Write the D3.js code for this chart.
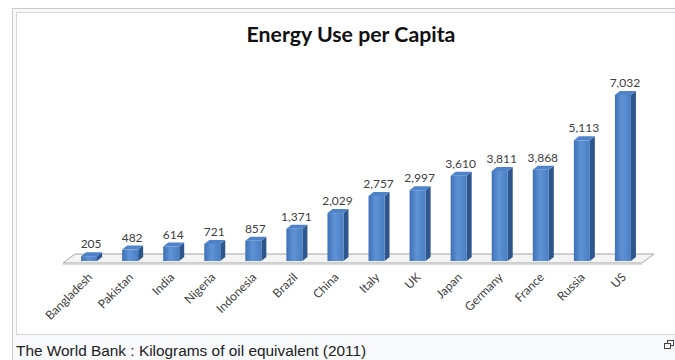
<!DOCTYPE html>
<html>
<head>
<meta charset="utf-8">
<script src="https://cdnjs.cloudflare.com/ajax/libs/d3/7.8.5/d3.min.js"></script>
<style>
  html, body { margin: 0; padding: 0; background: #ffffff; }
  svg { display: block; }
</style>
</head>
<body>
<script>
// ---- data ----
const categories = ["Bangladesh","Pakistan","India","Nigeria","Indonesia","Brazil","China","Italy","UK","Japan","Germany","France","Russia","US"];
const values = [205, 482, 614, 721, 857, 1371, 2029, 2757, 2997, 3610, 3811, 3868, 5113, 7032];
const valueLabels = ["205","482","614","721","857","1,371","2,029","2,757","2,997","3,610","3,811","3,868","5,113","7,032"];
const title = "Energy Use per Capita";
const caption = "The World Bank : Kilograms of oil equivalent (2011)";

const W = 675, H = 360;
const svg = d3.select("body").append("svg").attr("width", W).attr("height", H);

// ---- thumbnail frame ----
svg.append("rect").attr("x", 12.5).attr("y", 8.5).attr("width", W).attr("height", H)
  .attr("fill", "#f8f9fa").attr("stroke", "#c8ccd1");
svg.append("rect").attr("x", 16.5).attr("y", 12.5).attr("width", W).attr("height", 322)
  .attr("fill", "#ffffff").attr("stroke", "#d4d6da");

// ---- gradients ----
const defs = svg.append("defs");
const gFront = defs.append("linearGradient").attr("id", "gFront").attr("x1", "0").attr("x2", "1").attr("y1", "0").attr("y2", "0");
gFront.append("stop").attr("offset", "0%").attr("stop-color", "#3e70b6");
gFront.append("stop").attr("offset", "45%").attr("stop-color", "#5f93d6");
gFront.append("stop").attr("offset", "100%").attr("stop-color", "#4a7ec2");

// ---- scales ----
const x = d3.scaleBand().domain(categories).range([63, 649]).paddingInner(0.61).paddingOuter(0.44);
const y = d3.scaleLinear().domain([0, 7032]).range([261, 95]);
const dx = 5, dy = -4;          // bar depth
const fdx = 12, fdy = -9;        // floor depth

// ---- floor ----
const fx0 = 63, fx1 = 642, fy = 263;
svg.append("path")
  .attr("d", `M${fx0},${fy} L${fx1},${fy} L${fx1 + fdx},${fy + fdy} L${fx0 + fdx},${fy + fdy} Z`)
  .attr("fill", "#f4f4f4").attr("stroke", "#a6a6a6").attr("stroke-width", 1);
svg.append("line").attr("x1", fx0).attr("x2", fx1).attr("y1", fy + 1.5).attr("y2", fy + 1.5)
  .attr("stroke", "#d9d9d9").attr("stroke-width", 1);

// ---- bars ----
const bars = svg.append("g").selectAll("g").data(categories).join("g");
const bw = x.bandwidth();
bars.each(function(c, i) {
  const g = d3.select(this);
  const x0 = x(c), x1 = x0 + bw, yt = y(values[i]), yb = y(0);
  g.append("path")
    .attr("d", `M${x1},${yt} L${x1 + dx},${yt + dy} L${x1 + dx},${yb + dy} L${x1},${yb} Z`)
    .attr("fill", "#2d568c");
  g.append("path")
    .attr("d", `M${x0},${yt} L${x0 + dx},${yt + dy} L${x1 + dx},${yt + dy} L${x1},${yt} Z`)
    .attr("fill", "#4f83c9");
  g.append("rect").attr("x", x0).attr("y", yt).attr("width", bw).attr("height", yb - yt)
    .attr("fill", "url(#gFront)");
});

// ---- value labels ----
svg.append("g").selectAll("text").data(categories).join("text")
  .attr("x", c => x(c) + bw / 2 + 2)
  .attr("y", (c, i) => y(values[i]) - 8)
  .attr("text-anchor", "middle")
  .attr("font-family", "Lato, 'Open Sans', sans-serif")
  .attr("font-size", 12)
  .attr("fill", "#404040")
  .text((c, i) => valueLabels[i]);

// ---- category labels ----
svg.append("g").selectAll("text").data(categories).join("text")
  .attr("transform", c => `translate(${x(c) + bw / 2 + 1},${275}) rotate(-45)`)
  .attr("text-anchor", "end")
  .attr("dy", "0.35em")
  .attr("font-family", "Lato, 'Open Sans', sans-serif")
  .attr("font-size", 12)
  .attr("fill", "#404040")
  .text(c => c);

// ---- title ----
svg.append("text").attr("x", 351).attr("y", 42).attr("text-anchor", "middle")
  .attr("font-family", "Lato, 'Open Sans', sans-serif").attr("font-weight", "bold")
  .attr("font-size", 21.3).attr("fill", "#111111").text(title);

// ---- caption ----
svg.append("text").attr("x", 16).attr("y", 356)
  .attr("font-family", "'Liberation Sans', Arial, sans-serif")
  .attr("font-size", 15.4).attr("fill", "#202122").text(caption);

// ---- magnify icon ----
const ic = svg.append("g").attr("fill", "none").attr("stroke", "#444").attr("stroke-width", 1);
ic.append("rect").attr("x", 667.5).attr("y", 340.5).attr("width", 6).attr("height", 5);
ic.append("rect").attr("x", 664.5).attr("y", 343.5).attr("width", 6).attr("height", 5).attr("fill", "#f8f9fa");
</script>
</body>
</html>
